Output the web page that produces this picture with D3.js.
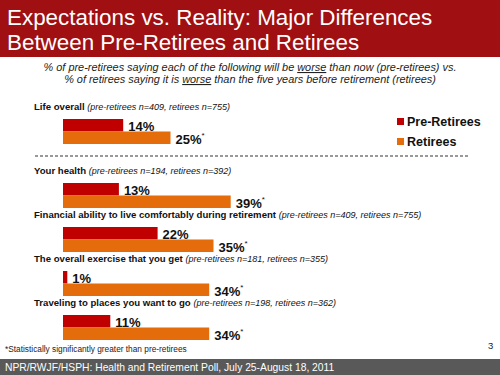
<!DOCTYPE html>
<html><head><meta charset="utf-8">
<script src="https://cdn.jsdelivr.net/npm/d3@7"></script>
<style>
body{margin:0;padding:0;background:#fff;}
svg{display:block;font-family:"Liberation Sans",Arial,sans-serif;}
</style></head>
<body>
<script>
const titleLines = ["Expectations vs. Reality: Major Differences", "Between Pre-Retirees and Retirees"];
const categories = ["Life overall", "Your health", "Financial ability to live comfortably during retirement", "The overall exercise that you get", "Traveling to places you want to go"];
const notes = ["(pre-retirees n=409, retirees n=755)", "(pre-retirees n=194, retirees n=392)", "(pre-retirees n=409, retirees n=755)", "(pre-retirees n=181, retirees n=355)", "(pre-retirees n=198, retirees n=362)"];
const preRetirees = [14, 13, 22, 1, 11];
const retirees = [25, 39, 35, 34, 34];
const significant = [true, true, true, true, true];
const seriesNames = ["Pre-Retirees", "Retirees"];
const colors = ["#C00000", "#E46C0A"];

const W = 500, H = 375;
const svg = d3.select("body").append("svg").attr("width", W).attr("height", H);

// title bar
svg.append("rect").attr("x",0).attr("y",0).attr("width",W).attr("height",57).attr("fill","#A00F12");
svg.selectAll("text.title").data(titleLines).enter().append("text")
  .attr("x",7).attr("y",(d,i)=>25+i*25).attr("fill","#fff")
  .attr("font-size",22.4).text(d=>d);

// subtitle
const sub = svg.append("g").attr("font-size",10.9).attr("font-style","italic").attr("fill","#222").attr("text-anchor","middle");
const s1 = sub.append("text").attr("x",250).attr("y",71);
s1.append("tspan").text("% of pre-retirees saying each of the following will be ");
s1.append("tspan").attr("text-decoration","underline").text("worse");
s1.append("tspan").text(" than now (pre-retirees) vs.");
const s2 = sub.append("text").attr("x",250).attr("y",83);
s2.append("tspan").text("% of retirees saying it  is ");
s2.append("tspan").attr("text-decoration","underline").text("worse");
s2.append("tspan").text(" than the five years before retirement (retirees)");

// scales
const x = d3.scaleLinear().domain([0, 40]).range([63, 63 + 172]);
const groupY = i => i === 0 ? 119 : 183 + (i - 1) * 44;
const barH = 12.5;

const g = svg.append("g");
categories.forEach((c, i) => {
  const y0 = groupY(i);
  const t = g.append("text").attr("x",34).attr("y",y0-9).attr("font-size",9.6).attr("fill","#111");
  t.append("tspan").attr("font-weight","bold").text(c + " ");
  t.append("tspan").attr("font-style","italic").attr("font-size",9).text(notes[i]);
});

const vals = [preRetirees, retirees];
vals.forEach((arr, s) => {
  g.selectAll("rect.s"+s).data(arr).enter().append("rect")
    .attr("x", x(0)).attr("y", (d,i)=>groupY(i) + s*barH)
    .attr("width", d => x(d) - x(0)).attr("height", barH)
    .attr("fill", colors[s]);
  const lab = g.selectAll("text.s"+s).data(arr).enter().append("text")
    .attr("x", d => x(d) + 5).attr("y", (d,i)=>groupY(i) + s*barH + barH - 0.5)
    .attr("font-size",13).attr("font-weight","bold").attr("fill","#111");
  lab.append("tspan").text(d => d + "%");
  if (s === 1) {
    lab.append("tspan").attr("font-size",8).attr("font-weight","normal").attr("dy",-6).text((d,i)=>significant[i] ? "*" : "");
  }
});

// dashed separator
svg.append("line").attr("x1",35).attr("x2",469).attr("y1",156).attr("y2",156)
  .attr("stroke","#333").attr("stroke-width",1).attr("stroke-dasharray","3,2");

// legend
const leg = svg.append("g");
seriesNames.forEach((n, i) => {
  leg.append("rect").attr("x",397).attr("y",118 + i*20).attr("width",7).attr("height",7).attr("fill",colors[i]);
  leg.append("text").attr("x",407).attr("y",126 + i*20).attr("font-size",12.5).attr("font-weight","bold").attr("fill","#111").text(n);
});

// footnote and page number
svg.append("text").attr("x",5).attr("y",352).attr("font-size",8.3).attr("fill","#222").text("*Statistically significantly greater than pre-retirees");
svg.append("text").attr("x",488).attr("y",349).attr("font-size",9.5).attr("fill","#222").text("3");

// footer bar
svg.append("rect").attr("x",0).attr("y",359).attr("width",W).attr("height",16).attr("fill","#595959");
svg.append("text").attr("x",5).attr("y",371).attr("font-size",10.3).attr("fill","#fff").text("NPR/RWJF/HSPH: Health and Retirement Poll, July 25-August 18, 2011");
</script>
</body></html>
